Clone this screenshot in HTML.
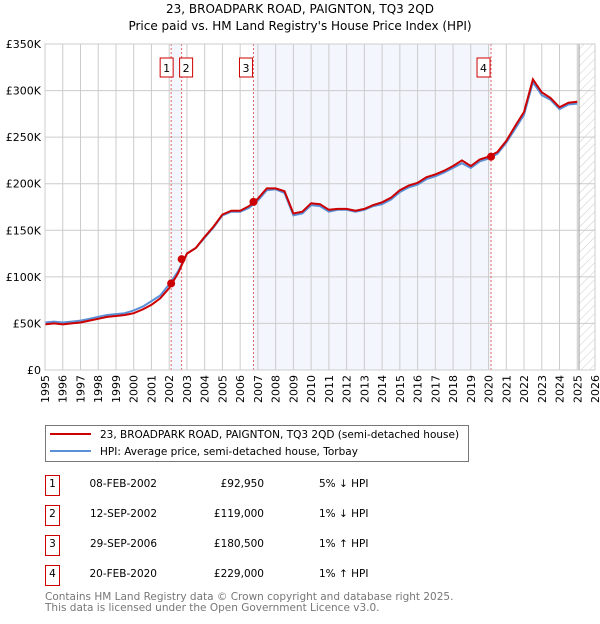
<!DOCTYPE html>
<html><head><meta charset="utf-8"><style>
body{margin:0;background:#fff;font-family:"DejaVu Sans","Liberation Sans",sans-serif;}
svg text{font-family:"DejaVu Sans","Liberation Sans",sans-serif;}
</style></head><body>
<svg id="chart" width="600" height="620" xmlns="http://www.w3.org/2000/svg">
<defs><pattern id="hatch" width="6" height="6" patternUnits="userSpaceOnUse" patternTransform="rotate(45)"><line x1="0" y1="0" x2="0" y2="6" stroke="#ccc" stroke-width="1"/></pattern></defs>
<text x="300" y="13" text-anchor="middle" font-size="12">23, BROADPARK ROAD, PAIGNTON, TQ3 2QD</text>
<text x="300" y="30" text-anchor="middle" font-size="12">Price paid vs. HM Land Registry's House Price Index (HPI)</text>
<g id="plot"></g>
<g>
<rect x="45.5" y="425.5" width="423" height="36" fill="#fff" stroke="#777"/>
<line x1="50" y1="434" x2="91" y2="434" stroke="#cc0000" stroke-width="2"/>
<text x="100" y="438" font-size="10.5">23, BROADPARK ROAD, PAIGNTON, TQ3 2QD (semi-detached house)</text>
<line x1="50" y1="451" x2="91" y2="451" stroke="#5b8fd6" stroke-width="2"/>
<text x="100" y="455" font-size="10.5">HPI: Average price, semi-detached house, Torbay</text>
</g>
<g id="table" font-size="10.5"></g>
<text x="45" y="600" font-size="10.5" fill="#777">Contains HM Land Registry data © Crown copyright and database right 2025.</text>
<text x="45" y="611" font-size="10.5" fill="#777">This data is licensed under the Open Government Licence v3.0.</text>
</svg>
<script>
const years=[1995,1995.5,1996,1996.5,1997,1997.5,1998,1998.5,1999,1999.5,2000,2000.5,2001,2001.5,2002,2002.5,2003,2003.5,2004,2004.5,2005,2005.5,2006,2006.5,2007,2007.5,2008,2008.5,2009,2009.5,2010,2010.5,2011,2011.5,2012,2012.5,2013,2013.5,2014,2014.5,2015,2015.5,2016,2016.5,2017,2017.5,2018,2018.5,2019,2019.5,2020,2020.5,2021,2021.5,2022,2022.5,2023,2023.5,2024,2024.5,2025];
const hpiValues=[51,52,51,52,53,55,57,59,60,61,64,68,74,80,92,106,125,131,142,153,166,170,170,174,182,193,194,190,166,168,177,176,170,172,172,170,172,176,178,183,191,196,199,205,208,212,217,222,217,224,227,232,244,259,274,309,295,290,280,285,286];
const priceValues=[49,50,49,50,51,53,55,57,58,59,61,65,70,77,88,104,125,131,143,154,167,171,171,176,184,195,195,192,168,170,179,178,172,173,173,171,173,177,180,185,193,198,201,207,210,214,219,225,219,226,229,234,246,262,277,312,298,292,282,287,288];
const saleLabels=["1","2","3","4"];
const saleDates=[2002.11,2002.70,2006.75,2020.14];
const salePrices=[92950,119000,180500,229000];
const saleDateText=["08-FEB-2002","12-SEP-2002","29-SEP-2006","20-FEB-2020"];
const salePriceText=["£92,950","£119,000","£180,500","£229,000"];
const saleHpiText=["5% ↓ HPI","1% ↓ HPI","1% ↑ HPI","1% ↑ HPI"];
const yTicks=[0,50,100,150,200,250,300,350];
const yTickLabels=["£0","£50K","£100K","£150K","£200K","£250K","£300K","£350K"];
const xTicks=[1995,1996,1997,1998,1999,2000,2001,2002,2003,2004,2005,2006,2007,2008,2009,2010,2011,2012,2013,2014,2015,2016,2017,2018,2019,2020,2021,2022,2023,2024,2025,2026];

const X0=45,X1=595,Y0=370,Y1=44;
const xs=v=>X0+(v-1995)/(2026-1995)*(X1-X0);
const ys=v=>Y0-v/350*(Y0-Y1);
const NS="http://www.w3.org/2000/svg";
const plot=document.getElementById('plot');
function mk(tag,attrs,parent){const e=document.createElementNS(NS,tag);for(const k in attrs)e.setAttribute(k,attrs[k]);(parent||plot).appendChild(e);return e;}

let r;
r=mk('rect',{x:xs(saleDates[0]),y:Y1,width:xs(saleDates[1])-xs(saleDates[0]),height:Y0-Y1,fill:'#eef2fc',opacity:0.7});


r=mk('rect',{x:xs(saleDates[2]),y:Y1,width:xs(saleDates[3])-xs(saleDates[2]),height:Y0-Y1,fill:'#eef2fc',opacity:0.7});


r=mk('rect',{x:xs(2025.1),y:Y1,width:X1-xs(2025.1),height:Y0-Y1,fill:'url(#hatch)'});



xTicks.forEach(t=>{
  const l=mk('line',{x1:xs(t),x2:xs(t),y1:Y1,y2:Y0,stroke:'#ccc','stroke-width':1});
  
  
  const tx=mk('text',{x:xs(t)+4,y:Y0+5,'text-anchor':'end','font-size':11,transform:'rotate(-90 '+(xs(t)+4)+' '+(Y0+5)+')'});
  
  
  tx.textContent=t;
});
yTicks.forEach((t,i)=>{
  const l=mk('line',{x1:X0,x2:X1,y1:ys(t),y2:ys(t),stroke:'#ccc','stroke-width':1});
  
  
  const tx=mk('text',{x:X0-4,y:ys(t)+4,'text-anchor':'end','font-size':11});
  
  
  tx.textContent=yTickLabels[i];
});
r=mk('line',{x1:xs(2025.1),x2:xs(2025.1),y1:Y1,y2:Y0,stroke:'#999','stroke-width':1});



saleDates.forEach((d,i)=>{
  const l=mk('line',{x1:xs(d),x2:xs(d),y1:Y1,y2:Y0,stroke:'#e06666','stroke-width':1,'stroke-dasharray':'2,2'});
  
  
});

const pts=a=>years.map((y,i)=>xs(y).toFixed(1)+','+ys(a[i]).toFixed(1)).join(' ');
r=mk('polyline',{points:pts(hpiValues),fill:'none',stroke:'#5b8fd6','stroke-width':2});


r=mk('polyline',{points:pts(priceValues),fill:'none',stroke:'#cc0000','stroke-width':2});



saleDates.forEach((d,i)=>{
  const c=mk('circle',{cx:xs(d),cy:ys(salePrices[i]/1000),r:4,fill:'#cc0000'});
  
  
  let bx=xs(d)-14;
  if(i===1) bx=xs(d)-2;
  if(i===0) bx=xs(d)-11;
  const g=mk('g',{});
  
  
  mk('rect',{x:bx,y:58,width:13,height:19,fill:'#fff',stroke:'#cc0000','stroke-width':1},g);
  const t=mk('text',{x:bx+6.5,y:72,'text-anchor':'middle','font-size':11},g);
  t.textContent=saleLabels[i];
});
r=mk('rect',{x:X0,y:Y1,width:X1-X0,height:Y0-Y1,fill:'none',stroke:'#ccc'});



const tb=document.getElementById('table');
saleLabels.forEach((lab,i)=>{
  const cy=483+i*30;
  const g=mk('g',{},tb);
  
  
  mk('rect',{x:45.5,y:cy-7.5,width:14,height:20,fill:'#fff',stroke:'#cc0000'},g);
  let t=mk('text',{x:52.5,y:cy+4,'text-anchor':'middle'},g);t.textContent=lab;
  t=mk('text',{x:157,y:cy+4,'text-anchor':'end'},g);t.textContent=saleDateText[i];
  t=mk('text',{x:264,y:cy+4,'text-anchor':'end'},g);t.textContent=salePriceText[i];
  t=mk('text',{x:319,y:cy+4},g);t.textContent=saleHpiText[i];
});
</script>
</body></html>
